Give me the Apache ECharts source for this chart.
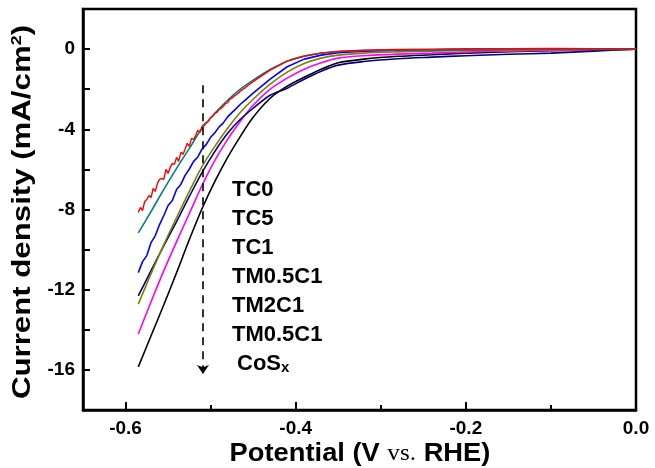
<!DOCTYPE html>
<html><head><meta charset="utf-8">
<script src="https://cdn.jsdelivr.net/npm/echarts@6/dist/echarts.min.js"></script>
<style>html,body{margin:0;padding:0;background:#fff}#c{width:655px;height:468px}</style>
</head><body><div id="c"></div>
<script>
// ---- data ----
const potential = [-0.585,-0.57,-0.555,-0.54,-0.525,-0.51,-0.495,-0.48,-0.465,-0.45,-0.43,-0.41,-0.39,-0.37,-0.35,-0.32,-0.28,-0.24,-0.2,-0.15,-0.1,-0.05,0];
const potentialTC1 = [-0.585,-0.58,-0.575,-0.57,-0.565,-0.56,-0.555,-0.55,-0.545,-0.54,-0.535,-0.53,-0.525,-0.52,-0.515,-0.51,-0.505,-0.5,-0.495,-0.49,-0.485,-0.48,-0.475,-0.47,-0.465,-0.46,-0.455,-0.45,-0.43,-0.41,-0.39,-0.37,-0.35,-0.32,-0.28,-0.24,-0.2,-0.15,-0.1,-0.05,0];
const potentialTC0 = [-0.585,-0.5825,-0.58,-0.5775,-0.575,-0.5725,-0.57,-0.5675,-0.565,-0.5625,-0.56,-0.5575,-0.555,-0.5525,-0.55,-0.5475,-0.545,-0.5425,-0.54,-0.5375,-0.535,-0.5325,-0.53,-0.5275,-0.525,-0.5225,-0.52,-0.5175,-0.515,-0.5125,-0.51,-0.5075,-0.505,-0.5025,-0.5,-0.4975,-0.495,-0.4925,-0.49,-0.4875,-0.485,-0.4825,-0.48,-0.4775,-0.475,-0.4725,-0.47,-0.4675,-0.465,-0.4625,-0.46,-0.4575,-0.455,-0.45,-0.43,-0.41,-0.39,-0.37,-0.35,-0.32,-0.28,-0.24,-0.2,-0.15,-0.1,-0.05,0];
const tc0 = [-8.15,-7.9,-8.05,-7.6,-7.5,-7.3,-7.4,-6.95,-7.1,-6.7,-6.5,-6.45,-6.5,-6.0,-6.2,-5.9,-5.7,-5.75,-5.4,-5.6,-5.15,-5.25,-5.0,-4.7,-4.85,-4.45,-4.5,-4.3,-4.05,-4.15,-3.85,-3.75,-3.65,-3.6,-3.4,-3.35,-3.2,-3.15,-3.0,-2.95,-2.85,-2.7,-2.68,-2.5,-2.45,-2.35,-2.28,-2.2,-2.1,-2.02,-1.95,-1.86,-1.78,-1.62,-1.05,-0.6,-0.35,-0.2,-0.12,-0.06,-0.02,0,0.02,0.02,0.03,0.02,0];
const tc1 = [-11.15,-10.6,-10.3,-9.65,-9.3,-8.75,-8.3,-7.8,-7.55,-7.0,-6.75,-6.3,-5.98,-5.6,-5.38,-4.98,-4.75,-4.4,-4.17,-3.88,-3.68,-3.38,-3.17,-2.97,-2.75,-2.57,-2.38,-2.2,-1.5,-0.88,-0.5,-0.3,-0.18,-0.1,-0.05,-0.03,-0.02,-0.01,0,0,0];
const tc5 = [-9.17,-8.1,-7.0,-5.95,-4.95,-3.95,-3.2,-2.55,-2.0,-1.55,-1.02,-0.6,-0.35,-0.2,-0.12,-0.07,-0.04,-0.03,-0.02,-0.01,0,0,0];
const tm05c1a = [-12.72,-11.2,-9.75,-8.4,-7.1,-5.85,-4.85,-3.95,-3.15,-2.5,-1.75,-1.15,-0.72,-0.45,-0.3,-0.2,-0.14,-0.1,-0.07,-0.05,-0.03,-0.02,0];
const tm05c1b = [-12.31,-11.05,-9.8,-8.6,-7.35,-6.15,-5.1,-4.2,-3.5,-2.95,-2.3,-1.95,-1.5,-1.1,-0.8,-0.62,-0.48,-0.4,-0.33,-0.26,-0.2,-0.1,0];
const tm2c1 = [-14.21,-12.6,-11.05,-9.6,-8.2,-6.8,-5.55,-4.5,-3.6,-2.8,-2.0,-1.45,-1.0,-0.68,-0.45,-0.33,-0.25,-0.2,-0.15,-0.1,-0.07,-0.04,0];
const cosx = [-15.85,-14.3,-12.75,-11.15,-9.5,-7.95,-6.6,-5.4,-4.35,-3.4,-2.45,-1.85,-1.4,-1.0,-0.68,-0.5,-0.36,-0.28,-0.2,-0.13,-0.08,-0.04,0];
const curveLabels = ['TC0','TC5','TC1','TM0.5C1','TM2C1','TM0.5C1','CoSx'];
const xTickValues = [-0.6,-0.4,-0.2,0];
const xMinorTickValues = [-0.5,-0.3,-0.1];
const yTickLabels = [-16,-12,-8,-4,0];
const arrowX = -0.509, arrowTop = -1.8, arrowBottom = -16.2;

const pair = (xs, ys) => ys.map((y, i) => [xs[i], y]);
const chart = echarts.init(document.getElementById('c'));
const F = 'Liberation Sans, Arial, sans-serif';
function line(name, xs, ys, color, extra) {
  return Object.assign({ name, type: 'line', data: pair(xs, ys), showSymbol: false, symbol: 'none',
    smooth: 0.3, lineStyle: { color, width: 1.6 }, itemStyle: { color }, z: 3 }, extra || {});
}
const labelTops = [191, 220, 249, 278, 307, 336, 365];
const graphics = curveLabels.map((t, i) => ({
  type: 'text', left: i === 6 ? 237 : 232, top: labelTops[i] - 12,
  style: i === 6 ? {
    text: '{a|CoS}{s|x}', font: 'bold 22px ' + F, fill: '#000',
    rich: { a: { fontFamily: F, fontWeight: 'bold', fontSize: 22, fill: '#000' },
            s: { fontFamily: F, fontWeight: 'bold', fontSize: 15, fill: '#000', padding: [7, 0, 0, 0] } }
  } : { text: t, font: 'bold 22px ' + F, fill: '#000' }
}));
// y-axis title drawn as text stretched along its length
graphics.push({
  type: 'text', x: 23, y: 212, rotation: Math.PI / 2, scaleX: 1.2,
  style: {
    text: '{t|Current density (mA/cm}{s|2}{t|)}', align: 'center', verticalAlign: 'middle',
    rich: { t: { fontFamily: F, fontWeight: 'bold', fontSize: 26, fill: '#000' },
            s: { fontFamily: F, fontWeight: 'bold', fontSize: 15, fill: '#000', padding: [0, 0, 12, 0] } }
  }
});
graphics.push({
  type: 'text', x: 360, y: 454, scaleX: 1.05,
  style: {
    text: '{t|Potential (V }{v|vs.}{t| RHE)}', align: 'center', verticalAlign: 'middle',
    rich: { t: { fontFamily: F, fontWeight: 'bold', fontSize: 26, fill: '#000' },
            v: { fontFamily: 'Liberation Serif, Times New Roman, serif', fontSize: 24, fill: '#000' } }
  }
});

chart.setOption({
  animation: false,
  backgroundColor: '#fff',
  grid: { left: 83, right: 19, top: 9, bottom: 58, show: true, borderColor: '#000', borderWidth: 2.5, backgroundColor: 'transparent' },
  xAxis: [{
    type: 'value', min: -0.65, max: 0, position: 'bottom',
    axisLine: { onZero: false, lineStyle: { color: '#000', width: 2.5 } },
    axisTick: { inside: true, length: 8, lineStyle: { color: '#000', width: 2 }, customValues: xTickValues },
    axisLabel: { customValues: xTickValues, color: '#000', fontFamily: F, fontWeight: 'bold', fontSize: 19, margin: 9,
      formatter: v => v.toFixed(1) },
    splitLine: { show: false }
  }, {
    type: 'value', min: -0.65, max: 0, position: 'bottom', gridIndex: 0,
    axisLine: { show: false, onZero: false },
    axisTick: { inside: true, length: 5, lineStyle: { color: '#000', width: 2 }, customValues: xMinorTickValues },
    axisLabel: { show: false }, splitLine: { show: false }
  }],
  yAxis: {
    type: 'value', min: -18, max: 2, interval: 2,
    axisLine: { show: true, onZero: false, lineStyle: { color: '#000', width: 2.5 } },
    axisTick: { inside: true, length: 7, lineStyle: { color: '#000', width: 2 } },
    axisLabel: { color: '#000', fontFamily: F, fontWeight: 'bold', fontSize: 19, margin: 8,
      formatter: v => yTickLabels.includes(v) ? String(v) : '' },
    splitLine: { show: false }
  },
  graphic: graphics,
  series: [
    line('CoSx', potential, cosx, '#000000', {
      markLine: { silent: true, symbol: ['none', 'arrow'], symbolSize: 9, label: { show: false },
        lineStyle: { type: [8, 6], color: '#000', width: 1.6 },
        data: [[{ coord: [arrowX, arrowTop] }, { coord: [arrowX, arrowBottom] }]] } }),
    line('TM2C1', potential, tm2c1, '#ff00ff'),
    line('TM0.5C1-b', potential, tm05c1b, '#000080'),
    line('TM0.5C1-a', potential, tm05c1a, '#808000'),
    line('TC1', potentialTC1, tc1, '#0000ff', { smooth: false }),
    line('TC5', potential, tc5, '#008080'),
    line('TC0', potentialTC0, tc0, '#ff0000', { smooth: false, lineStyle: { color: '#ff0000', width: 1.4 } })
  ]
});
</script></body></html>
